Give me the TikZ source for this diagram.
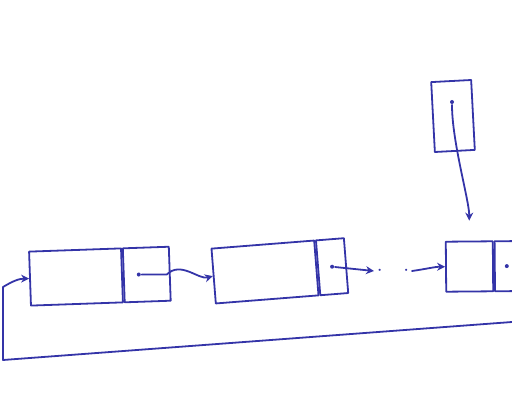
\documentclass[tikz,border=0pt]{standalone}
\usetikzlibrary{arrows.meta}
\definecolor{ink}{RGB}{52,52,168}
\begin{document}
\begin{tikzpicture}[x=1pt,y=1pt,
  line width=1.8pt, line join=round, line cap=round,
  cell/.style={draw=ink, rectangle, inner sep=0pt, minimum height=54pt},
  dotn/.style={circle, fill=ink, inner sep=0pt, minimum size=4pt},
  link/.style={draw=ink, -{Stealth[length=8pt,width=8pt]}},
  dotstext/.style={text=ink, font=\huge\bfseries, inner sep=2pt}]
\useasboundingbox (0,0) rectangle (512,413);
\clip (0,0) rectangle (512,413);
% node 1
\node[cell, minimum width=92pt, rotate=2] (d1) at (76,136) {};
\node[cell, minimum width=46pt, rotate=2, anchor=west] (p1) at (d1.east) {};
\node[dotn] (p1d) at ([xshift=-8pt]p1.center) {};
% node 2
\node[cell, minimum width=103pt, minimum height=55pt, rotate=4.5] (d2) at (265,141) {};
\node[cell, minimum width=28pt, minimum height=55pt, rotate=4.5, anchor=west] (p2) at (d2.east) {};
\node[dotn] (p2d) at (p2.center) {};
% dots
\node[dotstext] (dots) at (393,142) {$\cdot\quad\cdot$};
% node 3
\node[cell, minimum width=47pt, minimum height=50pt, rotate=0.5] (d3) at (469.5,146.5) {};
\node[cell, minimum width=40pt, minimum height=50pt, rotate=0.5, anchor=west] (p3) at (d3.east) {};
\node[dotn] (p3d) at ([xshift=-8pt]p3.center) {};
% head pointer box
\node[draw=ink, rectangle, inner sep=0pt, minimum width=40pt, minimum height=70pt, rotate=3] (h) at (453,297) {};
\node[dotn] (hd) at (452,311) {};
% connectors
\draw[link] (p1d) -- ++(28,0) .. controls +(14,14) and +(-14,-4) .. (d2.west);
\draw[link] (p2d) -- (dots.west);
\draw[link] (dots.east) .. controls +(14,2) and +(-10,0) .. (d3.west);
\draw[link, shorten >=20pt] (hd) .. controls +(0,-40) and +(0,40) .. (d3.north);
% back link
\coordinate (r) at (512,91);
\coordinate (bl) at (3,53);
\coordinate (tl) at (3,126);
\draw[link] (r) -- (bl) -- (tl) .. controls +(10,6) and +(-10,0) .. (d1.west);
\end{tikzpicture}
\end{document}
